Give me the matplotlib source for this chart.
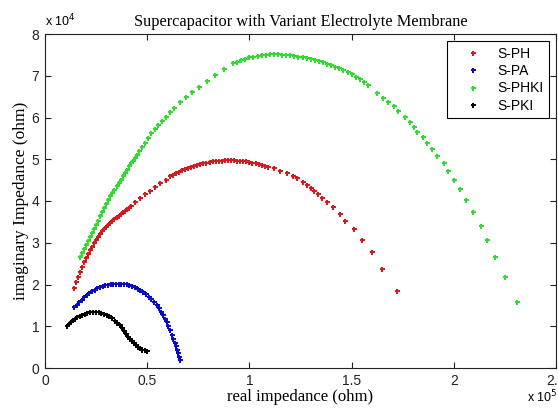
import matplotlib
matplotlib.use('Agg')
import matplotlib.pyplot as plt

# real part in units of 1e5 ohm, imaginary part in units of 1e4 ohm
sph_re = [0.14, 0.15, 0.16, 0.17, 0.18, 0.19, 0.20, 0.21, 0.22, 0.23, 0.24, 0.25, 0.26, 0.27,
          0.28, 0.29, 0.30, 0.31, 0.32, 0.33, 0.34, 0.35, 0.36, 0.37, 0.38, 0.39, 0.40, 0.41, 0.42,
          0.44, 0.465, 0.49, 0.515, 0.54, 0.565, 0.59,
          0.61, 0.625, 0.64, 0.655, 0.67, 0.685, 0.70, 0.715, 0.73, 0.745, 0.76, 0.775, 0.79,
          0.805, 0.82, 0.835, 0.85, 0.865, 0.88, 0.895, 0.91, 0.925, 0.94, 0.955, 0.97, 0.985,
          1.00, 1.015, 1.03, 1.045, 1.06, 1.075, 1.09,
          1.118, 1.150, 1.183, 1.215, 1.235, 1.261, 1.281, 1.300, 1.318, 1.336, 1.356, 1.379,
          1.411, 1.441, 1.470, 1.513, 1.550, 1.602, 1.650, 1.721]
sph_im = [1.92, 2.06, 2.19, 2.31, 2.42, 2.53, 2.63, 2.73, 2.82, 2.91, 2.99, 3.07, 3.14, 3.21,
          3.27, 3.33, 3.38, 3.43, 3.48, 3.53, 3.57, 3.61, 3.65, 3.69, 3.73, 3.77, 3.81, 3.84, 3.87,
          3.97, 4.06, 4.16, 4.25, 4.34, 4.43, 4.51,
          4.59, 4.63, 4.67, 4.70, 4.74, 4.77, 4.80, 4.82, 4.85, 4.87, 4.89, 4.91, 4.92,
          4.94, 4.95, 4.96, 4.97, 4.97, 4.98, 4.98, 4.98, 4.98, 4.97, 4.97, 4.96, 4.95,
          4.93, 4.92, 4.90, 4.88, 4.86, 4.84, 4.81,
          4.78, 4.73, 4.67, 4.60, 4.54, 4.46, 4.39, 4.32, 4.25, 4.17, 4.08, 3.98,
          3.85, 3.69, 3.53, 3.32, 3.06, 2.77, 2.37, 1.85]

spa_re = [0.142, 0.155, 0.168, 0.18, 0.192, 0.204, 0.217, 0.23, 0.243, 0.256, 0.269, 0.282,
          0.295, 0.308, 0.321, 0.334, 0.347, 0.36, 0.373, 0.386, 0.40, 0.413, 0.426, 0.44,
          0.453, 0.467, 0.481, 0.494, 0.507, 0.52, 0.534, 0.547, 0.557, 0.567, 0.577, 0.587,
          0.596, 0.604, 0.612, 0.62, 0.628, 0.635, 0.641, 0.647, 0.653, 0.657, 0.661]
spa_im = [1.45, 1.52, 1.58, 1.63, 1.69, 1.74, 1.79, 1.84, 1.88, 1.91, 1.94, 1.97,
          1.99, 2.00, 2.01, 2.02, 2.02, 2.02, 2.02, 2.01, 2.01, 1.99, 1.96, 1.93,
          1.90, 1.86, 1.82, 1.77, 1.71, 1.65, 1.58, 1.50, 1.43, 1.35, 1.27, 1.18,
          1.10, 1.00, 0.90, 0.80, 0.70, 0.61, 0.52, 0.43, 0.35, 0.27, 0.19]

sphki_re = [0.17, 0.18, 0.19, 0.20, 0.21, 0.22, 0.23, 0.24, 0.25, 0.26, 0.27, 0.28, 0.29,
            0.30, 0.31, 0.32, 0.33, 0.34, 0.35, 0.36, 0.37, 0.38, 0.39, 0.40, 0.41, 0.42,
            0.43, 0.44, 0.45,
            0.462, 0.475, 0.489, 0.505, 0.52, 0.537, 0.553, 0.571, 0.591, 0.612, 0.633, 0.661,
            0.69, 0.718, 0.754, 0.791, 0.832, 0.876,
            0.92, 0.94, 0.96, 0.98, 1.00, 1.02, 1.04, 1.06, 1.08, 1.10, 1.12, 1.14, 1.16, 1.18,
            1.20, 1.22, 1.24, 1.26, 1.28, 1.30, 1.32, 1.34, 1.36, 1.38, 1.40, 1.42, 1.44, 1.46,
            1.48, 1.50, 1.52, 1.54, 1.56, 1.58,
            1.623, 1.656, 1.680, 1.705, 1.729, 1.762, 1.786, 1.803, 1.822, 1.849, 1.871, 1.893,
            1.918, 1.953, 1.971, 1.999, 2.030, 2.061, 2.092, 2.133, 2.160, 2.200, 2.252, 2.309]
sphki_im = [2.67, 2.76, 2.86, 2.95, 3.05, 3.14, 3.24, 3.33, 3.43, 3.53, 3.63, 3.73, 3.83,
            3.93, 4.02, 4.11, 4.19, 4.27, 4.35, 4.43, 4.51, 4.59, 4.67, 4.75, 4.83, 4.90,
            4.97, 5.04, 5.11,
            5.19, 5.29, 5.40, 5.51, 5.62, 5.72, 5.82, 5.91, 6.01, 6.12, 6.23, 6.36,
            6.48, 6.60, 6.74, 6.88, 7.02, 7.16,
            7.30, 7.34, 7.38, 7.41, 7.44, 7.46, 7.48, 7.49, 7.50, 7.51, 7.51, 7.51, 7.50, 7.50,
            7.49, 7.48, 7.46, 7.44, 7.42, 7.40, 7.38, 7.35, 7.32, 7.29, 7.26, 7.22, 7.18, 7.13,
            7.09, 7.04, 6.98, 6.92, 6.86, 6.78,
            6.58, 6.46, 6.38, 6.28, 6.16, 6.02, 5.90, 5.78, 5.66, 5.54, 5.40, 5.24,
            5.08, 4.90, 4.72, 4.51, 4.28, 4.02, 3.73, 3.41, 3.06, 2.66, 2.18, 1.57]

spki_re = [0.108, 0.118, 0.128, 0.138, 0.148, 0.158, 0.171, 0.183, 0.195, 0.207, 0.22, 0.237,
           0.25, 0.263, 0.276, 0.289, 0.302, 0.315, 0.328, 0.341, 0.354, 0.367, 0.377, 0.387,
           0.397, 0.407, 0.416, 0.426, 0.436, 0.446, 0.457, 0.467, 0.477, 0.487, 0.498]
spki_im = [1.01, 1.06, 1.10, 1.14, 1.18, 1.21, 1.25, 1.28, 1.30, 1.32, 1.33, 1.34,
           1.34, 1.33, 1.32, 1.30, 1.28, 1.24, 1.19, 1.13, 1.08, 1.02, 0.95, 0.88,
           0.81, 0.75, 0.70, 0.64, 0.59, 0.54, 0.50, 0.47, 0.44, 0.42, 0.40]

labels = ['S-PH', 'S-PA', 'S-PHKI', 'S-PKI']
colors = ['#d81a1e', '#0a0acc', '#2edd2e', '#000000']
xticks = [0, 0.5, 1, 1.5, 2, 2.5]
xticklabels = ['0', '0.5', '1', '1.5', '2', '2.5']
yticks = [0, 1, 2, 3, 4, 5, 6, 7, 8]

serif = 'Liberation Serif'
sans = 'Liberation Sans'

fig = plt.figure(figsize=(5.58, 4.08), dpi=100)
ax = fig.add_axes([45 / 558, 40 / 408, 511 / 558, 334 / 408])

series = [(sph_re, sph_im), (spa_re, spa_im), (sphki_re, sphki_im), (spki_re, spki_im)]
for (xs, ys), lab, c in zip(series, labels, colors):
    ax.plot(xs, ys, linestyle='none', marker='P', markersize=3.6, markeredgewidth=0,
            color=c, label=lab)

ax.set_xlim(0, 2.5)
ax.set_ylim(0, 8)
ax.set_xticks(xticks)
ax.set_xticklabels(xticklabels, fontfamily=sans, fontsize=10)
ax.set_yticks(yticks)
ax.set_yticklabels([str(v) for v in yticks], fontfamily=sans, fontsize=10)
ax.tick_params(direction='in', top=True, right=True, length=4, width=0.8, colors='#222222',
               labelcolor='#222222', pad=4)
for s in ax.spines.values():
    s.set_color('#222222')
    s.set_linewidth(0.8)

ax.set_title('Supercapacitor with Variant Electrolyte Membrane', fontfamily=serif,
             fontsize=11.8, pad=6)
ax.set_xlabel('real impedance (ohm)', fontfamily=serif, fontsize=12, labelpad=1)
ax.set_ylabel('imaginary Impedance (ohm)', fontfamily=serif, fontsize=12.5, labelpad=2)

# MATLAB style exponent labels
ax.text(0.0, 1.015, r'x 10$^4$', transform=ax.transAxes, fontfamily=sans, fontsize=9,
        ha='left', va='bottom')
fig.text(527 / 558, 3 / 408, r'x 10$^5$', fontfamily=sans, fontsize=9, ha='left', va='bottom')

leg = ax.legend(loc='upper right', prop={'family': sans, 'size': 10}, fancybox=False,
                framealpha=1, edgecolor='black', borderpad=0.4, labelspacing=0.25,
                handlelength=2.95, handletextpad=0.3, borderaxespad=0.5, markerscale=1.0)
leg.get_frame().set_linewidth(0.8)

fig.savefig('out.png', dpi=100)
